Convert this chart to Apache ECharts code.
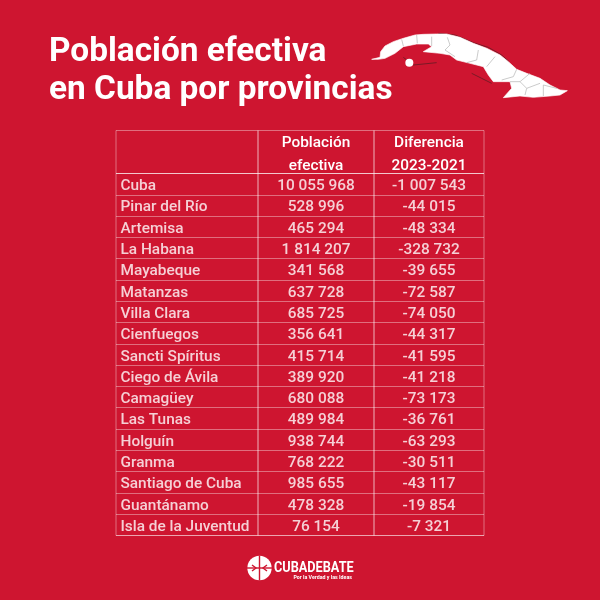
<!DOCTYPE html>
<html>
<head>
<meta charset="utf-8">
<title>Población efectiva en Cuba por provincias</title>
<script src="https://cdn.jsdelivr.net/npm/echarts@6/dist/echarts.min.js"></script>
<style>
  html, body { margin: 0; padding: 0; background: #ce1530; }
  #chart { width: 600px; height: 600px; }
</style>
</head>
<body>
<div id="chart"></div>
<script>
/* =========================================
   1. DATA
   ========================================= */
const titleLines = ["Población efectiva", "en Cuba por provincias"];
const headerPoblacion = "Población\nefectiva";
const headerDiferencia = "Diferencia\n2023-2021";
const provinces = [
  "Cuba", "Pinar del Río", "Artemisa", "La Habana", "Mayabeque", "Matanzas",
  "Villa Clara", "Cienfuegos", "Sancti Spíritus", "Ciego de Ávila", "Camagüey",
  "Las Tunas", "Holguín", "Granma", "Santiago de Cuba", "Guantánamo",
  "Isla de la Juventud",
];
const poblacion = [
  10055968, 528996, 465294, 1814207, 341568, 637728, 685725, 356641, 415714,
  389920, 680088, 489984, 938744, 768222, 985655, 478328, 76154,
];
const diferencia = [
  -1007543, -44015, -48334, -328732, -39655, -72587, -74050, -44317, -41595,
  -41218, -73173, -36761, -63293, -30511, -43117, -19854, -7321,
];

/* =========================================
   2. MAP ARTWORK (traced, 3x units)
   ========================================= */
const cubaOutline = [
  [35,118],[60,112],[62,95],[75,78],[100,65],[130,55],[165,45],[190,43],[230,42],[260,42],
  [300,52],[340,70],[380,85],[420,105],[445,125],[470,148],[500,160],[540,175],[570,195],
  [600,210],[622,212],[600,225],[570,228],[520,232],[480,228],[430,233],[455,205],[450,185],
  [400,185],[385,165],[370,140],[330,130],[290,120],[270,105],[240,100],[190,95],[215,80],
  [205,72],[170,72],[130,80],[105,100],[75,115],[55,118],
];
const provinceLines = [
  [[125,58],[130,78]],
  [[170,45],[172,70]],
  [[215,50],[215,78]],
  [[262,52],[270,75],[255,90],[285,110]],
  [[355,90],[350,120],[320,128]],
  [[405,110],[380,140]],
  [[470,148],[460,170],[425,180]],
  [[480,185],[510,160]],
  [[450,185],[480,185],[500,205],[540,190]],
  [[500,205],[495,225]],
  [[550,195],[550,228]],
  [[550,195],[590,205]],
];
const cayLines = [
  [[235,40],[285,45],[340,68],[385,82],[425,105],[447,125]],
  [[335,160],[365,175],[395,190]],
  [[130,112],[160,135],[230,128]],
];

/* =========================================
   3. CHART
   ========================================= */
const BG = "#ce1530";
const LINE = "rgba(255,255,255,0.38)";
const FONT = "Roboto";
const TABLE_SIZE = 15.4;

function fmt(n) {
  return String(n).replace(/\B(?=(\d{3})+$)/g, " ");
}

function column(index, left, width, name, values) {
  const isNames = index === 0;
  return {
    grid: { left, top: 173.5, width, height: 362, show: true, borderColor: LINE, borderWidth: 1, backgroundColor: "transparent" },
    // names sit on a 0-1 value axis so they start at the left edge of the column
    xAxis: isNames
      ? { type: "value", gridIndex: index, min: 0, max: 1, show: false }
      : { type: "category", gridIndex: index, data: [name], axisLine: { show: false }, axisTick: { show: false }, axisLabel: { show: false } },
    yAxis: {
      type: "category", gridIndex: index, inverse: true, data: provinces,
      axisLine: { show: false }, axisTick: { show: false }, axisLabel: { show: false },
      splitLine: { show: true, interval: 0, lineStyle: { color: LINE, width: 1 } },
    },
    series: {
      type: "scatter", xAxisIndex: index, yAxisIndex: index, silent: true,
      symbolSize: 1, itemStyle: { color: "transparent" },
      data: provinces.map((p, i) => [isNames ? 0 : name, p, values[i]]),
      label: {
        show: true,
        position: isNames ? "right" : "inside",
        distance: 4,
        offset: [0, 2.2],
        color: "#fff", fontFamily: FONT, fontSize: TABLE_SIZE, fontWeight: 500,
        formatter: (d) => (isNames ? d.value[2] : fmt(d.value[2])),
      },
    },
  };
}

function headerCell(x, width) {
  return { type: "rect", shape: { x, y: 130.5, width, height: 43 }, style: { fill: "none", stroke: LINE, lineWidth: 1 } };
}

function headerText(x, text) {
  return {
    type: "text", x, y: 154.5,
    style: {
      text, fill: "#fff", font: "500 " + TABLE_SIZE + "px " + FONT, lineHeight: 22.5,
      align: "center", verticalAlign: "middle",
    },
  };
}

function initChart() {
  const chartDom = document.getElementById("chart");
  const chart = echarts.init(chartDom, null, { renderer: "canvas" });

  const cols = [
    column(0, 116, 142, "Provincia", provinces),
    column(1, 258, 116, "Población efectiva", poblacion),
    column(2, 374, 110, "Diferencia", diferencia),
  ];

  chart.setOption({
    animation: false,
    backgroundColor: BG,
    grid: cols.map((c) => c.grid),
    xAxis: cols.map((c) => c.xAxis),
    yAxis: cols.map((c) => c.yAxis),
    series: cols.map((c) => c.series),
    graphic: [
      ...titleLines.map((t, i) => ({
        type: "text", x: 49, y: 52.5 + i * 38.5,
        style: { text: t, fill: "#fff", font: "700 33.4px " + FONT, verticalAlign: "middle" },
      })),
      headerCell(116, 142), headerCell(258, 116), headerCell(374, 110),
      headerText(316, headerPoblacion),
      headerText(429, headerDiferencia),
      // Cuba map
      {
        type: "group", x: 360, y: 20, scaleX: 1 / 3, scaleY: 1 / 3,
        children: [
          ...cayLines.map((points) => ({
            type: "polyline", shape: { points },
            style: { stroke: "#7a1a26", lineWidth: 3, fill: "none" },
          })),
          { type: "polygon", shape: { points: cubaOutline }, style: { fill: "#fff", stroke: "#fff", lineWidth: 2 } },
          { type: "circle", shape: { cx: 148, cy: 128, r: 12 }, style: { fill: "#fff" } },
          ...provinceLines.map((points) => ({
            type: "polyline", shape: { points },
            style: { stroke: "#b0b0b0", lineWidth: 2, fill: "none" },
          })),
        ],
      },
      // Cubadebate logo
      { type: "circle", shape: { cx: 259.5, cy: 568, r: 12.2 }, style: { fill: "#fff" } },
      { type: "line", shape: { x1: 247, y1: 568, x2: 272, y2: 568 }, style: { stroke: BG, lineWidth: 1.4 } },
      { type: "line", shape: { x1: 259.5, y1: 555.5, x2: 259.5, y2: 580.5 }, style: { stroke: BG, lineWidth: 1.4 } },
      { type: "polyline", shape: { points: [[252,565],[256,568],[252,571]] }, style: { stroke: BG, lineWidth: 1.4, fill: "none" } },
      { type: "polyline", shape: { points: [[267,565],[263,568],[267,571]] }, style: { stroke: BG, lineWidth: 1.4, fill: "none" } },
      {
        type: "text", x: 274, y: 568.5, scaleX: 0.82,
        style: { text: "CUBADEBATE", fill: "#fff", font: "700 15.5px 'Liberation Sans Narrow', Roboto", verticalAlign: "middle" },
      },
      {
        type: "text", x: 352, y: 578,
        style: { text: "Por la Verdad y las Ideas", fill: "#fff", font: "700 5.3px " + FONT, align: "right", verticalAlign: "middle" },
      },
    ],
  });
}

document.addEventListener("DOMContentLoaded", initChart);
</script>
</body>
</html>
